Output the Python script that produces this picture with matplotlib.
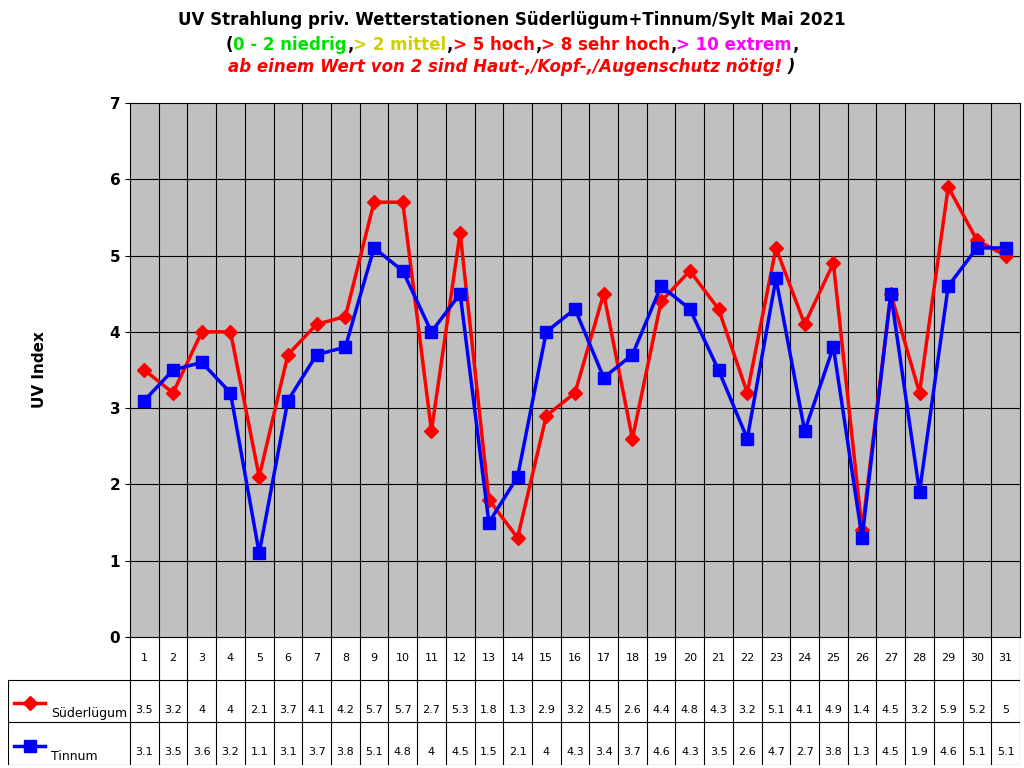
import matplotlib.pyplot as plt
import numpy as np

days = list(range(1, 32))
suederluegum = [3.5, 3.2, 4, 4, 2.1, 3.7, 4.1, 4.2, 5.7, 5.7, 2.7, 5.3, 1.8, 1.3, 2.9, 3.2,
                4.5, 2.6, 4.4, 4.8, 4.3, 3.2, 5.1, 4.1, 4.9, 1.4, 4.5, 3.2, 5.9, 5.2, 5]
tinnum = [3.1, 3.5, 3.6, 3.2, 1.1, 3.1, 3.7, 3.8, 5.1, 4.8, 4, 4.5, 1.5, 2.1, 4, 4.3,
          3.4, 3.7, 4.6, 4.3, 3.5, 2.6, 4.7, 2.7, 3.8, 1.3, 4.5, 1.9, 4.6, 5.1, 5.1]

W, H = 1024, 768
fig = plt.figure(figsize=(W / 100, H / 100), dpi=100)

# main plot area
x0, x1, y0, y1 = 130, 1020, 103, 637
ax = fig.add_axes([x0 / W, 1 - y1 / H, (x1 - x0) / W, (y1 - y0) / H])
ax.set_facecolor('#c0c0c0')
ax.set_xlim(0.5, 31.5)
ax.set_ylim(0, 7)
ax.set_yticks(range(8))
ax.set_yticklabels([str(i) for i in range(8)], fontweight='bold', fontsize=11)
ax.set_xticks([])
for d in np.arange(1.5, 31.5, 1):
    ax.axvline(d, color='black', lw=0.8)
for v in range(1, 7):
    ax.axhline(v, color='black', lw=0.8)
ax.plot(days, suederluegum, color='red', marker='D', markersize=7, lw=2.5, label='Süderlügum')
ax.plot(days, tinnum, color='blue', marker='s', markersize=8, lw=2.5, label='Tinnum')
ax.set_ylabel('UV Index', fontweight='bold', fontsize=11, labelpad=45)
for s in ax.spines.values():
    s.set_color('black')

# data table
tx0 = 8
per_day = (x1 - x0) / 31
tab = fig.add_axes([tx0 / W, 1 - 765 / H, (x1 - tx0) / W, (765 - y1) / H])
tab.set_xlim(0.5 - (x0 - tx0) / per_day, 31.5)
tab.set_ylim(0, 3)
tab.axis('off')
xl = 0.5 - (x0 - tx0) / per_day
for d in np.arange(0.5, 32, 1):
    tab.plot([d, d], [0, 3], color='black', lw=0.8)
for yy in [0, 1, 2]:
    tab.plot([xl, 31.5], [yy, yy], color='black', lw=0.8)
tab.plot([xl, xl], [0, 2], color='black', lw=0.8)
for d, a, b in zip(days, suederluegum, tinnum):
    tab.text(d, 2.5, str(d), ha='center', va='center', fontsize=8)
    tab.text(d, 1.3, f'{a:g}', ha='center', va='center', fontsize=8)
    tab.text(d, 0.3, f'{b:g}', ha='center', va='center', fontsize=8)
tab.plot([xl + 0.2, xl + 1.3], [1.45, 1.45], color='red', lw=2.5)
tab.plot([xl + 0.75], [1.45], color='red', marker='D', markersize=7)
tab.text(xl + 1.5, 1.2, 'Süderlügum', va='center', fontsize=9)
tab.plot([xl + 0.2, xl + 1.3], [0.45, 0.45], color='blue', lw=2.5)
tab.plot([xl + 0.75], [0.45], color='blue', marker='s', markersize=8)
tab.text(xl + 1.5, 0.2, 'Tinnum', va='center', fontsize=9)

# title
fig.text(0.5, 1 - 20 / H, 'UV Strahlung priv. Wetterstationen Süderlügum+Tinnum/Sylt Mai 2021',
         ha='center', va='center', fontsize=12, fontweight='bold')

def colored_line(parts, y, **kw):
    r = fig.canvas.get_renderer()
    texts = [fig.text(0, y, s, color=c, va='center', **kw) for s, c in parts]
    widths = [t.get_window_extent(r).width for t in texts]
    x = (W - sum(widths)) / 2
    for t, w in zip(texts, widths):
        t.set_x(x / W)
        x += w

colored_line([('(', 'black'), ('0 - 2 niedrig', '#00e000'), (',', 'black'),
              ('> 2 mittel', '#d0d000'), (',', 'black'), ('> 5 hoch', 'red'),
              (',', 'black'), ('> 8 sehr hoch', 'red'), (',', 'black'),
              ('> 10 extrem', '#ff00ff'), (',', 'black')],
             1 - 45 / H, fontsize=12, fontweight='bold')
colored_line([('ab einem Wert von 2 sind Haut-,/Kopf-,/Augenschutz nötig!', 'red'), (' )', 'black')],
             1 - 67 / H, fontsize=12, fontweight='bold', style='italic')
fig.texts[-2].set_text(fig.texts[-2].get_text())
for t in fig.texts[-2:]:
    pass

fig.savefig('out.png', dpi=100)
